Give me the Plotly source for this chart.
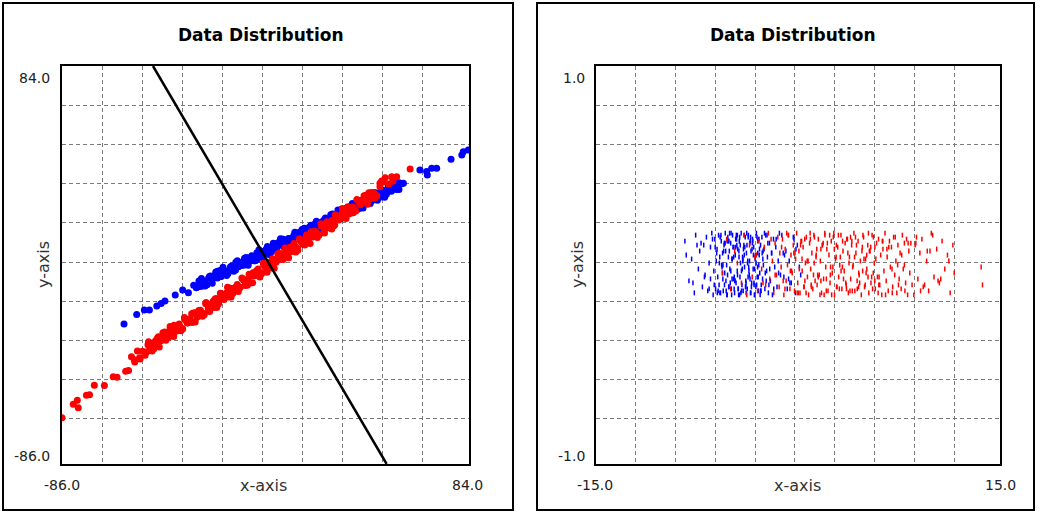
import plotly.graph_objects as go

# ---------------- data ----------------
left_x_range = [-86.0, 84.0]
left_y_range = [-86.0, 84.0]
right_x_range = [-15.0, 15.0]
right_y_range = [-1.0, 1.0]

panel_title = "Data Distribution"
x_title = "x-axis"
y_title = "y-axis"

# left panel: blue class
blue_left_x = [-60.1, -54.8, -51.6, -49.5, -46.4, -44.6, -43.0, -38.7, -35.6, -33.2, -29.7,
               -31.0, -29.9, -28.8, -27.7, -26.6, -25.5, -24.4, -23.3, -22.2, -21.1, -20.0, -18.9, -17.8, -16.7,
               -15.6, -14.5, -13.4, -12.3, -11.2, -10.1, -9.0, -7.9, -6.8, -5.7, -4.6, -3.5, -2.4, -1.3, -0.2,
               0.9, 2.0, 3.1, 4.2, 5.3, 6.4, 7.5, 8.6, 9.7, 10.8, 11.9, 13.0, 14.1, 15.2, 16.3, 17.4, 18.5,
               19.6, 20.7, 21.8, 22.9, 24.0, 25.1, 26.2, 27.3, 28.4, 29.5, 30.6, 31.7, 32.8, 33.9, 35.0, 36.1,
               37.2, 38.3, 39.4, 40.5, 41.6, 42.7, 43.8, 44.9, 46.0, 47.1, 48.2, 49.3, 50.4, 51.5, 52.6, 53.7,
               54.8, 55.9,
               -28.5, -27.0, -25.5, -24.0, -22.5, -21.0, -19.5, -18.0, -16.5, -15.0, -13.5, -12.0, -10.5, -9.0,
               -7.5, -6.0, -4.5, -3.0, -1.5, 0.0, 1.5, 3.0, 4.5, 6.0, 7.6, 9.0, 10.5, 12.0, 13.5, 15.0, 16.5,
               18.0, 19.5, 21.0, 22.5, 24.0, 25.5, 27.0, 28.5, 30.0, 31.5, 33.0, 34.5, 36.0, 37.5, 39.0, 40.5,
               42.0, 43.5, 45.0, 46.5, 48.0, 49.5, 51.0,
               -27.75, -26.25, -24.75, -23.25, -21.75, -20.25, -18.75, -17.25, -15.75, -14.25, -12.75, -11.25,
               -9.75, -8.25, -6.75, -5.25, -3.75, -2.25, -0.75, 0.75, 2.25, 3.75, 5.25, 6.75, 8.25, 9.75, 11.25,
               12.75, 14.25, 15.75, 17.25, 18.75, 20.25, 21.75, 23.25, 24.75, 26.25, 27.75, 29.25, 30.75, 32.25,
               33.75, 35.25, 36.75, 38.25, 39.75, 41.25, 42.75, 44.25, 45.75, 47.25, 48.75, 50.25, 51.75, 53.25,
               54.75,
               56.6, 63.5, 66.3, 66.6, 68.4, 70.5, 76.5, 81.0, 81.6, 83.7]
blue_left_y = [-26.2, -22.1, -20.2, -20.2, -18.5, -17.4, -16.4, -13.8, -11.7, -12.8, -10.5,
               -9.6, -10.7, -7.8, -10.1, -7.9, -9.4, -5.9, -6.8, -5.4, -6.5, -3.4, -4.8, -3.7, -4.7,
               -1.8, -2.3, 0.2, -1.8, 0.1, -1.1, 2.1, 0.7, 2.1, 0.8, 4.1, 3.2, 4.8, 3.8, 6.9,
               5.1, 6.5, 5.5, 8.5, 7.6, 10.0, 8.0, 10.3, 8.7, 11.6, 11.3, 12.9, 11.8, 14.7, 12.3, 14.5, 13.1,
               16.5, 15.6, 17.1, 15.9, 19.1, 17.6, 18.7, 17.8, 20.7, 20.2, 22.7, 20.7, 22.5, 21.4, 24.5, 23.2,
               24.5, 23.2, 26.5, 25.6, 27.2, 26.2, 29.3, 27.6, 28.9, 28.0, 30.9, 30.0, 32.4, 30.5, 32.7, 31.2,
               34.1, 33.7,
               -10.2, -7.8, -9.3, -5.7, -6.5, -3.7, -5.9, -3.6, -3.8, -1.3, -3.1, -0.3, -0.1, 2.2,
               0.6, 2.4, 1.2, 4.6, 4.1, 6.5, 4.7, 7.4, 7.4, 10.0, 9.5, 10.2, 9.0, 12.6, 12.0, 13.6, 12.7,
               16.0, 14.8, 16.1, 15.3, 18.4, 18.2, 20.8, 19.0, 21.1, 20.2, 23.5, 22.3, 23.9, 22.8, 26.3, 27.0,
               27.4, 26.6, 29.9, 28.4, 29.9, 29.2, 32.4,
               -6.8, -10.0, -6.5, -8.8, -4.0, -5.9, -2.0, -5.5, -2.3, -3.7, 0.8, -1.2,
               1.9, -1.1, 2.9, 0.8, 5.5, 2.2, 5.7, 3.4, 8.3, 6.3, 10.2, 6.7, 9.9, 8.5, 13.0,
               11.1, 14.2, 11.2, 15.1, 13.0, 17.7, 14.5, 18.0, 15.7, 20.5, 18.6, 22.5, 19.0, 22.1,
               20.8, 25.3, 23.3, 26.4, 23.4, 27.4, 25.3, 29.9, 26.7, 30.2, 27.9, 32.8, 30.8, 34.7,
               31.2,
               33.9, 39.6, 38.9, 37.4, 40.3, 40.3, 44.2, 46.0, 47.4, 48.1]

# left panel: red class
red_left_x = [-86.0, -81.3, -79.6, -79.2, -75.8, -74.5, -72.5, -68.3, -64.6, -63.0, -59.4, -58.2, -55.6, -53.4,
              -57.0, -55.8, -54.5, -53.6, -52.4, -51.3, -50.1, -49.2, -48.0, -46.9, -45.7, -44.8, -43.5, -42.6,
              -41.4, -40.3, -39.2, -38.1, -37.0, -35.9, -34.8, -33.7, -32.5, -31.6, -30.4, -29.3, -28.2, -27.1,
              -26.0, -24.9, -23.8, -22.7, -21.6, -20.5, -19.4, -18.3, -17.2, -16.1, -15.0, -13.9, -12.8, -11.7,
              -10.6, -9.5, -8.4, -7.3, -6.2, -5.1, -4.0, -2.9, -1.8, -0.7, 0.4, 1.5, 2.6, 3.7, 4.8, 5.9, 7.0,
              8.1, 9.2, 10.3, 11.4, 12.5, 13.6, 14.7, 15.8, 16.9, 18.0, 19.1, 20.2, 21.3, 22.4, 23.5, 24.6,
              25.7, 26.8, 27.9, 29.0, 30.1, 31.2, 32.3, 33.4, 34.5, 35.6, 36.7, 37.8, 38.9, 40.0, 41.1, 42.2,
              43.3, 44.4, 45.5, 46.8, 48.1,
              -50.6, -49.1, -47.6, -46.1, -44.6, -43.1, -41.6, -40.1, -38.6, -37.1, -35.6, -34.1, -32.6, -31.1,
              -29.6, -28.1, -26.6, -25.1, -23.6, -22.1, -20.6, -19.1, -17.6, -16.1, -14.6, -13.1, -11.6, -10.1,
              -8.6, -7.1, -5.6, -4.1, -2.6, -1.1, 0.4, 1.9, 3.4, 4.9, 6.4, 7.9, 9.4, 10.9, 12.4, 13.9, 15.4,
              16.9, 18.4, 19.9, 21.4, 22.9, 24.4, 25.9, 27.4, 28.9, 30.4, 31.9, 33.4, 34.9, 36.4, 37.9, 39.4,
              40.9, 42.4, 43.9,
              -49.85, -48.35, -46.85, -45.35, -43.85, -42.35, -40.85, -39.35, -37.85, -36.35, -34.85, -33.35,
              -31.85, -30.35, -28.85, -27.35, -25.85, -24.35, -22.85, -21.35, -19.85, -18.35, -16.85, -15.35,
              -13.85, -12.35, -10.85, -9.35, -7.85, -6.35, -4.85, -3.35, -1.85, -0.35, 1.15, 2.65, 4.15, 5.65,
              7.15, 8.65, 10.15, 11.65, 13.15, 14.65, 16.15, 17.65, 19.15, 20.65, 22.15, 23.65, 25.15, 26.65,
              28.15, 29.65, 31.15, 32.65, 34.15, 35.65, 37.15, 38.65, 40.15, 41.65, 43.15, 44.65,
              39.9, 46.8, 47.5, 49.0, 50.5, 51.7, 52.2, 53.8, 59.4]
red_left_y = [-66.2, -60.5, -58.8, -62.0, -56.6, -56.4, -52.4, -52.5, -48.7, -48.9, -46.4, -46.1, -42.4, -41.2,
              -40.2, -41.5, -37.7, -40.6, -37.8, -39.5, -35.1, -36.2, -34.3, -35.6, -31.6, -33.5, -31.9, -33.1,
              -29.4, -29.9, -26.7, -29.2, -26.8, -28.1, -24.2, -25.8, -24.0, -25.6, -21.4, -22.4, -20.3, -21.6,
              -17.6, -19.7, -18.0, -19.1, -15.3, -16.4, -13.3, -15.7, -12.8, -14.7, -11.0, -11.3, -9.3, -10.6,
              -6.9, -9.8, -7.0, -8.7, -4.3, -5.4, -3.5, -4.8, -0.9, -2.6, -1.1, -2.3, 1.4, 0.9, 4.1, 1.6, 4.0,
              2.7, 6.6, 5.0, 6.8, 5.3, 9.4, 8.4, 10.5, 9.2, 13.2, 11.1, 12.8, 11.7, 15.5, 14.5, 17.5,
              15.1, 18.0, 16.1, 19.8, 19.5, 21.5, 20.2, 23.9, 21.1, 23.8, 22.1, 26.5, 25.4, 27.3, 26.0, 29.9,
              28.2, 29.7, 28.6, 32.4, 34.4,
              -38.1, -35.0, -36.8, -32.2, -33.1, -29.6, -32.1, -29.3, -29.3, -26.2, -28.3, -24.8, -24.4, -21.5,
              -23.3, -21.0, -22.3, -18.1, -18.6, -15.5, -17.6, -14.2, -14.1, -10.8, -13.1, -10.3, -10.5, -7.5,
              -9.6, -5.7, -5.6, -2.7, -4.6, -1.8, -2.2, 1.7, 0.2, 2.0, 1.4, 5.2, 4.6, 8.2, 6.0, 8.8, 7.5,
              11.7, 11.0, 13.3, 12.0, 16.3, 14.7, 16.9, 15.7, 20.0, 19.2, 22.4, 20.8, 23.7, 22.6, 26.0, 25.8,
              28.8, 27.2, 29.7,
              -33.8, -37.7, -33.3, -36.0, -29.9, -32.2, -27.3, -31.5, -27.5, -29.1, -23.4, -25.7,
              -21.8, -25.4, -20.4, -22.9, -17.0, -20.9, -16.5, -19.2, -13.1, -15.4, -10.5, -14.7,
              -10.7, -12.3, -6.6, -8.9, -5.0, -8.6, -3.6, -6.1, -0.2, -4.1, 0.3, -2.4, 3.7, 1.4,
              6.3, 2.1, 6.1, 4.5, 10.2, 7.9, 11.8, 8.2, 13.2, 10.7, 16.6, 12.7, 17.1, 14.4,
              20.5, 18.2, 23.1, 18.9, 22.9, 21.3, 27.0, 24.7, 28.6, 25.0, 30.0, 27.5,
              26.8, 33.9, 34.9, 36.3, 33.6, 36.7, 34.8, 36.7, 40.0]

# separating line
sep_x = [-48.0, 49.6]
sep_y = [84.0, -86.0]

# right panel: blue class
blue_right_x = [-8.4, -8.1, -7.9, -7.7, -7.6, -7.4, -7.3, -7.1, -7.0, -6.9, -6.8, -6.7, -6.6, -6.5, -6.5, -6.4,
                -6.3, -8.3, -7.8, -7.2,
                -6.25, -6.18, -6.12, -6.07, -6.01, -5.96, -5.9, -5.86, -5.81, -5.75, -5.7, -5.64, -5.6, -5.55,
                -5.49, -5.44, -5.4, -5.35, -5.3, -5.26, -5.21, -5.15, -5.1, -5.06, -5.0, -4.95, -4.91, -4.86,
                -4.8, -4.76, -4.71, -4.66, -4.6, -4.56, -4.51, -4.47, -4.41, -4.36, -4.31, -4.27, -4.22, -4.16,
                -4.12, -4.07, -4.02, -3.97, -3.92, -3.88, -3.83, -3.77, -3.73, -3.68, -3.62, -3.58, -3.53, -3.49,
                -3.44, -3.38, -3.33, -3.29, -3.24, -3.18, -3.13, -3.09, -3.03, -2.98, -2.93, -2.88, -2.84, -2.78,
                -2.73, -2.68, -2.63, -2.57, -2.52, -2.46, -2.4, -2.33, -2.27, -2.2, -2.12, -2.05, -1.97, -1.9,
                -1.82, -1.73, -1.65, -1.56, -1.47, -1.38, -1.3,
                -5.52, -5.33, -5.18, -5.03, -4.88, -4.73, -4.58, -4.43, -4.29, -4.14, -3.99, -3.85, -3.7, -3.56,
                -3.41, -3.26, -3.11, -2.96, -2.81, -2.66, -5.62, -5.47, -5.12, -4.97, -4.68, -4.38, -4.19, -3.95,
                -3.64, -3.36, -3.07, -2.91,
                -1.2, -1.05, -0.9, -0.8, -0.65, -0.5, -0.35, -0.2, -0.05, 0.1, -1.1, -0.7, -0.3, 0.2]
blue_right_y = [0.12, -0.08, 0.03, -0.14, 0.15, -0.02, 0.07, -0.11, 0.1, -0.05, 0.14, -0.13, 0.01, 0.09, -0.07,
                0.16, -0.15, 0.05, -0.09, 0.11,
                -0.03, 0.13, -0.12, 0.02, 0.08, -0.06, 0.15, -0.1, 0.04, -0.14, 0.12, -0.01, 0.06, -0.13, 0.1,
                -0.04, 0.16, -0.08, 0.0, -0.15,
                0.14, -0.11, 0.07, -0.02, 0.11, -0.12, 0.03, 0.15, -0.07, 0.09, -0.14, 0.05, -0.09, 0.13, -0.03,
                0.08, -0.15, 0.12, -0.06, 0.01,
                0.16, -0.1, 0.04, -0.13, 0.1, -0.01, 0.14, -0.08, 0.06, -0.12, 0.02, 0.15, -0.05, 0.11, -0.14,
                0.07, -0.09, 0.13, -0.02, 0.09,
                -0.15, 0.03, -0.11, 0.16, -0.06, 0.12, -0.13, 0.05, -0.04, 0.1, -0.1, 0.14, -0.07, 0.0, 0.08,
                -0.12, 0.15, -0.03, 0.04, -0.14,
                0.11, -0.08, 0.06, -0.15, 0.13, -0.01, 0.09, -0.11, 0.02, 0.16, -0.05, 0.07, -0.13, 0.12, -0.09,
                0.03, -0.06, 0.15, -0.12, 0.1,
                -0.02, 0.05, -0.14, 0.14, -0.07, 0.08, -0.1, 0.01, 0.13, -0.15, 0.06, -0.04, 0.11, -0.11, 0.16,
                -0.08, 0.04, -0.13, 0.09, -0.03,
                0.12, -0.1, 0.0, 0.15, -0.06, 0.07, -0.12, 0.02, -0.09, 0.14, -0.14, 0.1, -0.01, 0.06, -0.07,
                0.13, -0.05]
blue_right_x2 = [-6.22, -6.04, -5.93, -5.78, -5.67, -5.58, -5.41, -5.28, -5.17, -5.08,
                 -4.99, -4.83, -4.74, -4.63, -4.49, -4.39, -4.24, -4.1, -4.0, -3.86,
                 -3.79, -3.66, -3.55, -3.46, -3.31, -3.2, -3.05, -2.95, -2.86, -2.75,
                 -2.61, -2.49, -2.36, -2.24, -2.1, -1.95, -1.8, -1.62, -1.44, -6.15,
                 -5.99, -5.84, -5.72, -5.46, -5.37, -5.23, -5.13, -4.93, -4.78, -4.69,
                 -4.54, -4.45, -4.33, -4.2, -4.05, -3.9, -3.81, -3.71, -3.6, -3.5,
                 -3.39, -3.27, -3.16, -3.0, -2.9, -2.77, -2.59, -2.43, -2.3, -2.16,
                 -5.57, -5.26, -4.9, -4.62, -4.34, -4.09, -3.87, -3.52, -3.22, -2.99,
                 -7.5, -6.95, -6.6, -6.35, -1.0, -0.6, -0.15, -5.8, -4.5, -3.75]
blue_right_y2 = [-0.1, 0.06, -0.13, 0.14, 0.0, -0.07, 0.11, -0.15, 0.04, 0.16,
                 -0.03, 0.09, -0.12, 0.13, -0.05, 0.07, -0.14, 0.02, 0.15, -0.09,
                 0.1, -0.01, 0.12, -0.11, 0.05, -0.15, 0.14, -0.06, 0.08, -0.13,
                 0.03, 0.16, -0.08, 0.11, -0.02, 0.06, -0.12, 0.13, -0.04, 0.09,
                 -0.14, 0.01, 0.15, -0.1, 0.07, -0.05, 0.12, -0.15, 0.04, -0.08,
                 0.1, -0.12, 0.14, -0.03, 0.08, -0.11, 0.16, -0.06, 0.02, -0.14,
                 0.11, -0.09, 0.05, -0.01, 0.13, -0.13, 0.07, -0.04, 0.15, -0.1,
                 0.0, 0.12, -0.07, 0.09, -0.15, 0.03, -0.11, 0.14, -0.02, 0.06,
                 0.1, -0.06, -0.12, 0.13, 0.05, -0.09, 0.08, -0.14, 0.15, 0.01]

# right panel: red class
red_right_x = [-5.6, -5.3, -5.0, -4.7, -4.5, -4.2, -4.0, -3.8, -3.6, -3.4, -3.2, -3.0, -2.9, -2.7, -2.5, -2.4,
               -2.2, -2.1, -1.9, -1.8, -1.7, -1.6, -1.5, -1.4, -1.35,
               -1.25, -1.15, -1.05, -0.95, -0.88, -0.78, -0.7, -0.6, -0.52, -0.43,
               -0.35, -0.26, -0.18, -0.1, -0.02, 0.07, 0.15, 0.22, 0.31, 0.38,
               0.46, 0.55, 0.62, 0.7, 0.79, 0.86, 0.94, 1.03, 1.1, 1.18,
               1.27, 1.34, 1.42, 1.51, 1.58, 1.66, 1.75, 1.82, 1.9, 1.99,
               2.06, 2.14, 2.23, 2.3, 2.38, 2.47, 2.54, 2.62, 2.71, 2.78,
               2.86, 2.95, 3.02, 3.1, 3.19, 3.26, 3.34, 3.43, 3.5, 3.58,
               3.67, 3.74, 3.82, 3.91, 3.98, 4.06, 4.15, 4.22, 4.3, 4.39,
               4.46, 4.54, 4.63, 4.7, 4.78, 4.87, 4.94, 5.02, 5.11, 5.18,
               5.26, 5.35, 5.42, 5.5, 5.59, 5.66, 5.74, 5.83, 5.9, 5.98,
               6.07, 6.14, 6.22, 6.31, 6.38, 6.46, 6.55, 6.62, 6.7, 6.79,
               6.86, 6.94, 7.03, 7.1, 7.18, 7.27, 7.34, 7.42, 7.51, 7.58,
               7.66, 7.75, 7.82, 7.9, 7.99, 8.06, 8.14, 8.23, 8.3, 8.38, 8.47,
               0.3, 0.9, 1.5, 2.1, 2.7, 3.3, 3.9, 4.5, 5.1, 5.7, 6.3, 0.6, 1.2, 1.8, 2.4, 3.0, 3.6, 4.2, 4.8, 5.4,
               8.6, 8.75, 8.9, 9.05, 9.2, 9.4, 9.55, 9.7, 9.9, 10.1, 10.3, 10.5, 10.7, 10.9, 11.1, 11.3, 11.5,
               11.6, 8.8, 9.3, 9.8, 10.4,
               13.6, 13.7]
red_right_y = [-0.04, 0.13, -0.12, 0.07, 0.01, -0.09, 0.15, -0.15, 0.1, -0.06,
               0.04, -0.13, 0.12, -0.02, 0.09, -0.1, 0.16, -0.07, 0.02, -0.14,
               0.11, -0.05, 0.14, -0.11, 0.06, -0.01, 0.13, -0.15, 0.08, -0.08,
               0.0, 0.15, -0.12, 0.05, -0.04, 0.1, -0.13, 0.03, 0.16, -0.09,
               0.07, -0.14, 0.12, -0.03, 0.09, -0.11, 0.01, 0.14, -0.06, -0.15,
               0.11, -0.02, 0.06, -0.12, 0.15, -0.08, 0.04, -0.1, 0.13, -0.05,
               0.02, -0.14, 0.1, -0.07, 0.16, -0.01, 0.08, -0.13, 0.05, -0.09,
               0.12, -0.04, 0.14, -0.15, 0.03, -0.11, 0.09, -0.06, 0.0, 0.15,
               -0.12, 0.07, -0.03, 0.11, -0.1, 0.13, -0.14, 0.04, -0.07, 0.1,
               -0.01, 0.16, -0.13, 0.06, -0.08, 0.12, -0.05, 0.02, -0.15, 0.09,
               0.14, -0.11, 0.03, -0.02, 0.1, -0.14, 0.07, -0.09, 0.15, -0.04,
               0.01, -0.12, 0.11, -0.06, 0.13, -0.1, 0.05, -0.15, 0.08, -0.03,
               0.16, -0.08, 0.04, -0.13, 0.12, -0.01, 0.09, -0.11, 0.14, -0.05,
               0.02, -0.14, 0.1, -0.07, 0.06, -0.12, 0.15, -0.02, 0.0, -0.09,
               0.13, -0.15, 0.07, -0.04, 0.11, -0.1, 0.03, 0.16, -0.06, -0.13,
               0.08, -0.01, 0.14, -0.11, 0.05, -0.08, 0.12, -0.14, 0.01, 0.1,
               -0.05, 0.15, -0.12, 0.04, -0.03, 0.09, -0.15, 0.11, -0.07, 0.06,
               0.13, -0.1, 0.02, -0.13, 0.16, -0.06, 0.08, -0.09, 0.12, -0.02,
               0.05, -0.14, 0.1, -0.04, 0.14, -0.11, 0.07, -0.08, -0.01, -0.1]
red_right_x2 = [-1.22, -0.97, -0.73, -0.48, -0.22, 0.03, 0.27, 0.51, 0.75, 0.98,
                1.22, 1.46, 1.7, 1.94, 2.18, 2.42, 2.66, 2.9, 3.14, 3.38,
                3.62, 3.86, 4.1, 4.34, 4.58, 4.82, 5.06, 5.3, 5.54, 5.78,
                6.02, 6.26, 6.5, 6.74, 6.98, 7.22, 7.46, 7.7, 7.94, 8.18,
                -1.1, -0.84, -0.57, -0.31, -0.06, 0.19, 0.43, 0.68, 0.92, 1.15,
                1.39, 1.63, 1.87, 2.11, 2.35, 2.59, 2.83, 3.07, 3.31, 3.55,
                3.79, 4.03, 4.27, 4.51, 4.75, 4.99, 5.23, 5.47, 5.71, 5.95,
                0.1, 0.5, 1.0, 1.35, 1.7, 2.0, 2.5, 2.85, 3.2, 3.7,
                4.0, 4.4, 4.9, 5.2, 5.6, 6.0, 6.6, 7.0, 7.4, 7.9,
                -3.1, -2.6, -2.0, -1.7, 8.7, 9.1, 9.6, 10.0, 10.6, 11.2]
red_right_y2 = [0.09, -0.12, 0.15, -0.03, 0.06, -0.14, 0.12, -0.08, 0.02, -0.1,
                0.14, -0.05, 0.08, -0.15, 0.11, -0.01, 0.16, -0.11, 0.04, -0.07,
                0.13, -0.13, 0.0, 0.1, -0.09, 0.15, -0.04, 0.07, -0.12, 0.03,
                -0.06, 0.12, -0.15, 0.09, -0.02, 0.14, -0.1, 0.05, -0.13, 0.11,
                -0.08, 0.16, -0.03, 0.06, -0.14, 0.1, -0.11, 0.02, 0.13, -0.05,
                0.08, -0.15, 0.11, -0.07, 0.15, -0.01, 0.04, -0.12, 0.12, -0.09,
                0.01, -0.13, 0.14, -0.04, 0.07, -0.1, 0.16, -0.06, 0.09, -0.14,
                -0.02, 0.13, -0.11, 0.05, -0.08, 0.15, -0.15, 0.1, -0.03, 0.06,
                0.12, -0.12, 0.03, -0.06, 0.14, -0.1, 0.08, -0.14, 0.0, 0.11,
                0.05, -0.09, 0.13, -0.05, 0.1, -0.13, 0.07, 0.15, -0.07, 0.02]

# ---------------- layout constants ----------------
W, H = 1044, 512
BLUE = "#0000ff"
RED = "#ff0000"


def px(x):
    return x / W


def py(y):
    return 1 - y / H


left_dom_x = [px(62), px(469)]
right_dom_x = [px(596), px(1000)]
dom_y = [py(464), py(66)]
GRID_STEP = 0.0985


def grid_vals(rng, from_top=False):
    span = rng[1] - rng[0]
    if from_top:
        return [rng[1] - k * GRID_STEP * span for k in range(1, 10)]
    return [rng[0] + k * GRID_STEP * span for k in range(1, 10)]


fig = go.Figure()

fig.add_trace(go.Scatter(x=blue_left_x, y=blue_left_y, mode="markers",
                         marker=dict(color=BLUE, size=7, line=dict(width=0)),
                         xaxis="x", yaxis="y", showlegend=False, hoverinfo="skip"))
fig.add_trace(go.Scatter(x=red_left_x, y=red_left_y, mode="markers",
                         marker=dict(color=RED, size=7, line=dict(width=0)),
                         xaxis="x", yaxis="y", showlegend=False, hoverinfo="skip"))
fig.add_trace(go.Scatter(x=sep_x, y=sep_y, mode="lines",
                         line=dict(color="black", width=2.5),
                         xaxis="x", yaxis="y", showlegend=False, hoverinfo="skip"))

fig.add_trace(go.Scatter(x=blue_right_x + blue_right_x2, y=blue_right_y + blue_right_y2, mode="markers",
                         marker=dict(color=BLUE, size=3.5, symbol="line-ns",
                                     line=dict(width=1.5, color=BLUE)),
                         xaxis="x2", yaxis="y2", showlegend=False, hoverinfo="skip"))
fig.add_trace(go.Scatter(x=red_right_x + red_right_x2, y=red_right_y + red_right_y2, mode="markers",
                         marker=dict(color=RED, size=3.5, symbol="line-ns",
                                     line=dict(width=1.5, color=RED)),
                         xaxis="x2", yaxis="y2", showlegend=False, hoverinfo="skip"))

axis_common = dict(showgrid=True, gridcolor="#7a7a7a", gridwidth=1, griddash="4px,3px",
                   showticklabels=False, ticks="", zeroline=False,
                   showline=True, linecolor="black", linewidth=2, mirror=True,
                   fixedrange=True)

fig.update_layout(
    width=W, height=H, autosize=False,
    margin=dict(l=0, r=0, t=0, b=0, pad=0),
    paper_bgcolor="white", plot_bgcolor="white",
    xaxis=dict(domain=left_dom_x, range=left_x_range, tickvals=grid_vals(left_x_range),
               anchor="y", **axis_common),
    yaxis=dict(domain=dom_y, range=left_y_range, tickvals=grid_vals(left_y_range, True),
               anchor="x", **axis_common),
    xaxis2=dict(domain=right_dom_x, range=right_x_range, tickvals=grid_vals(right_x_range),
                anchor="y2", **axis_common),
    yaxis2=dict(domain=dom_y, range=right_y_range, tickvals=grid_vals(right_y_range, True),
                anchor="x2", **axis_common),
)

# outer panel frames
for x0, x1 in [(3, 513), (537, 1034)]:
    fig.add_shape(type="rect", xref="paper", yref="paper",
                  x0=px(x0), x1=px(x1), y0=py(510), y1=py(3),
                  line=dict(color="black", width=2), fillcolor="rgba(0,0,0,0)", layer="below")

FONT = "DejaVu Sans"
tick_font = dict(family=FONT, size=14, color="#222222")
axis_font = dict(family=FONT, size=16, color="#333333")
title_font = dict(family=FONT, size=17, color="black")

panels = [
    dict(xr=left_x_range, yr=left_y_range, title_cx=261, left=62, right=467, ylab_right=52,
         xtitle_cx=263, ytitle_cx=43),
    dict(xr=right_x_range, yr=right_y_range, title_cx=793, left=595, right=1000, ylab_right=587,
         xtitle_cx=797, ytitle_cx=577),
]

for p in panels:
    fig.add_annotation(text="<b>" + panel_title + "</b>", xref="paper", yref="paper",
                       x=px(p["title_cx"]), y=py(35), xanchor="center", yanchor="middle",
                       showarrow=False, font=title_font)
    fig.add_annotation(text=f"{p['yr'][1]:.1f}", xref="paper", yref="paper",
                       x=px(p["ylab_right"]), y=py(78), xanchor="right", yanchor="middle",
                       showarrow=False, font=tick_font)
    fig.add_annotation(text=f"{p['yr'][0]:.1f}", xref="paper", yref="paper",
                       x=px(p["ylab_right"]), y=py(456), xanchor="right", yanchor="middle",
                       showarrow=False, font=tick_font)
    fig.add_annotation(text=f"{p['xr'][0]:.1f}", xref="paper", yref="paper",
                       x=px(p["left"]), y=py(485), xanchor="center", yanchor="middle",
                       showarrow=False, font=tick_font)
    fig.add_annotation(text=f"{p['xr'][1]:.1f}", xref="paper", yref="paper",
                       x=px(p["right"]), y=py(485), xanchor="center", yanchor="middle",
                       showarrow=False, font=tick_font)
    fig.add_annotation(text=x_title, xref="paper", yref="paper",
                       x=px(p["xtitle_cx"]), y=py(485), xanchor="center", yanchor="middle",
                       showarrow=False, font=axis_font)
    fig.add_annotation(text=y_title, xref="paper", yref="paper",
                       x=px(p["ytitle_cx"]), y=py(265), xanchor="center", yanchor="middle",
                       textangle=-90, showarrow=False, font=axis_font)

fig.write_html("out.html", config={"displayModeBar": False},
               post_script="document.body.style.margin='0';")
